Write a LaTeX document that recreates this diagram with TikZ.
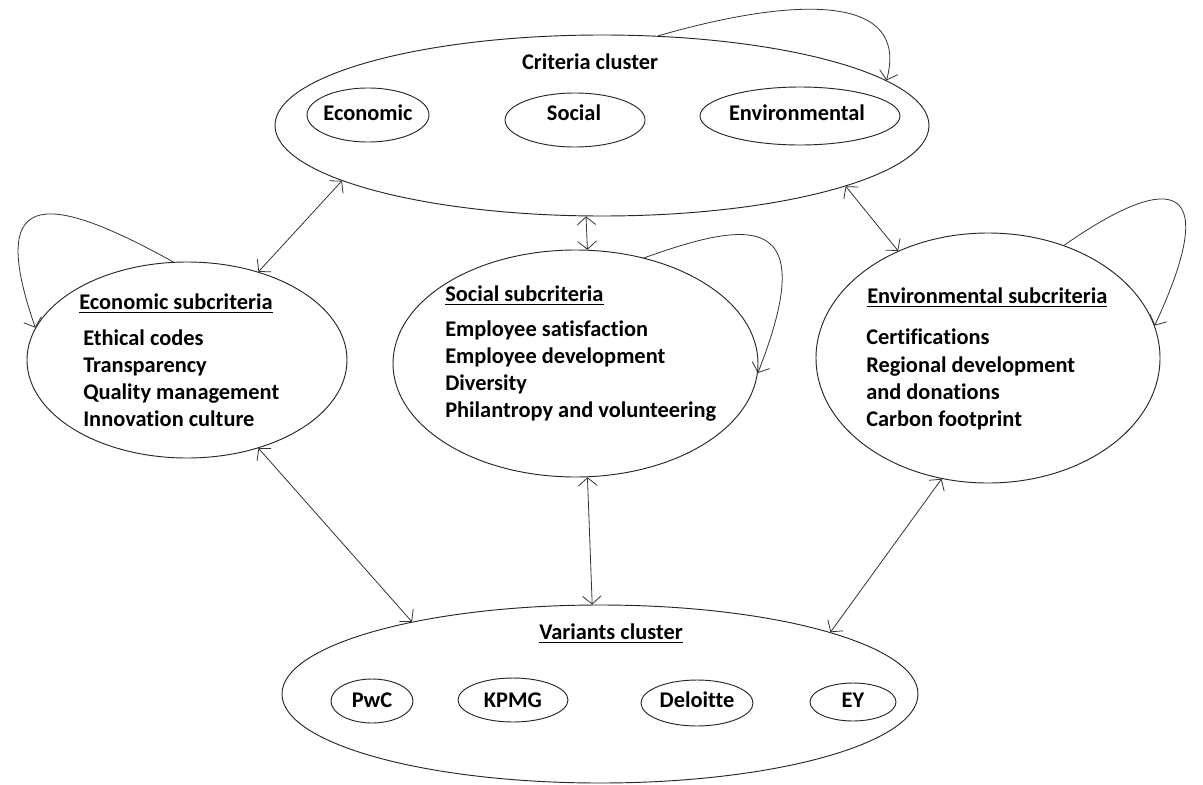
\documentclass[tikz,border=0pt]{standalone}
\usepackage{fontspec}
\setmainfont{Carlito}[Ligatures=NoCommon]
\usetikzlibrary{shapes.geometric,arrows.meta}
% underlined heading: a thick rule just below the baseline
\newcommand\headline[1]{\setbox0=\hbox{#1}\rlap{\rule[-3pt]{\wd0}{1.1pt}}\box0}
\begin{document}
\begin{tikzpicture}[x=0.75pt,y=-0.75pt,
  every node/.style={font=\fontsize{16.8}{20}\selectfont\bfseries},
  bubble/.style 2 args={ellipse, draw=black!85, line width=0.7pt,
    minimum width=#1*0.75pt, minimum height=#2*0.75pt, inner sep=0pt},
  barb/.tip={Straight Barb[length=6pt,width=14pt]},
  link/.style={draw=black!80, line width=0.6pt, barb-barb},
  loopback/.style={draw=black!80, line width=0.6pt, -barb},
  txt/.style={anchor=base west, inner sep=0pt},
  ctxt/.style={anchor=base, inner sep=0pt},
]
\useasboundingbox (0,0) rectangle (1203,785);

% clusters
\node[bubble={654}{181}] (crit) at (602,125.5) {};
\node[bubble={320}{196}] (econ) at (187,360) {};
\node[bubble={365}{227}] (soc) at (575.5,363.5) {};
\node[bubble={344}{250}] (env) at (988,358) {};
\node[bubble={636}{178}] (var) at (600,694) {};

% criteria cluster contents
\node[ctxt] (crit-title) at (590,69) {Criteria cluster};
\node[bubble={122}{54}] (c-eco) at (368,115) {};
\node[bubble={140}{54}] (c-soc) at (575,120) {};
\node[bubble={200}{58}] (c-env) at (800,116) {};
\node[ctxt] (c-eco-txt) at (368,120) {Economic};
\node[ctxt] (c-soc-txt) at (574,120) {Social};
\node[ctxt] (c-env-txt) at (797,120) {Environmental};

% economic subcriteria
\node[txt] (econ-head) at (79,309) {\headline{Economic subcriteria}};
\node[txt] (econ-1) at (83,345) {Ethical codes};
\node[txt] (econ-2) at (83,372) {Transparency};
\node[txt] (econ-3) at (83,399) {Quality management};
\node[txt] (econ-4) at (83,426) {Innovation culture};

% social subcriteria
\node[txt] (soc-head) at (445,301) {\headline{Social subcriteria}};
\node[txt] (soc-1) at (445,336) {Employee satisfaction};
\node[txt] (soc-2) at (445,363) {Employee development};
\node[txt] (soc-3) at (445,390) {Diversity};
\node[txt] (soc-4) at (445,417) {Philantropy and volunteering};

% environmental subcriteria
\node[txt] (env-head) at (867,303) {\headline{Environmental subcriteria}};
\node[txt] (env-1) at (866,344) {Certifications};
\node[txt] (env-2) at (866,372) {Regional development};
\node[txt] (env-3) at (866,399) {and donations};
\node[txt] (env-4) at (866,426) {Carbon footprint};

% variants cluster contents
\node[ctxt] (var-title) at (611,639) {\headline{Variants cluster}};
\node[bubble={82}{44}] (pwc) at (372,701) {};
\node[bubble={110}{44}] (kpmg) at (513,700) {};
\node[bubble={112}{46}] (deloitte) at (697,703) {};
\node[bubble={86}{38}] (ey) at (853,702) {};
\node[ctxt] (pwc-txt) at (372,707) {PwC};
\node[ctxt] (kpmg-txt) at (513,707) {KPMG};
\node[ctxt] (deloitte-txt) at (697,707) {Deloitte};
\node[ctxt] (ey-txt) at (853,707) {EY};

% two-way influences
\draw[link] (crit.192.05) -- (econ.51.5);
\draw[link] (crit.260) -- (soc.84.7);
\draw[link] (crit.-14.8) -- (env.130.6);
\draw[link] (econ.-51.5) -- (var.159.4);
\draw[link] (soc.-84.7) -- (var.95.1);
\draw[link] (env.-111) -- (var.15.65);

% inner dependence loops
\draw[loopback] (crit.58.4) .. controls (800,-5) and (910,-5) .. (crit.9.6);
\draw[loopback] (econ.98.1) .. controls (40,188) and (-12,192) .. (econ.168.3);
\draw[loopback] (soc.57.4) .. controls (750,220) and (822,210) .. (soc.-3);
\draw[loopback] (env.56.9) .. controls (1160,178) and (1228,168) .. (env.11.2);
\end{tikzpicture}
\end{document}
